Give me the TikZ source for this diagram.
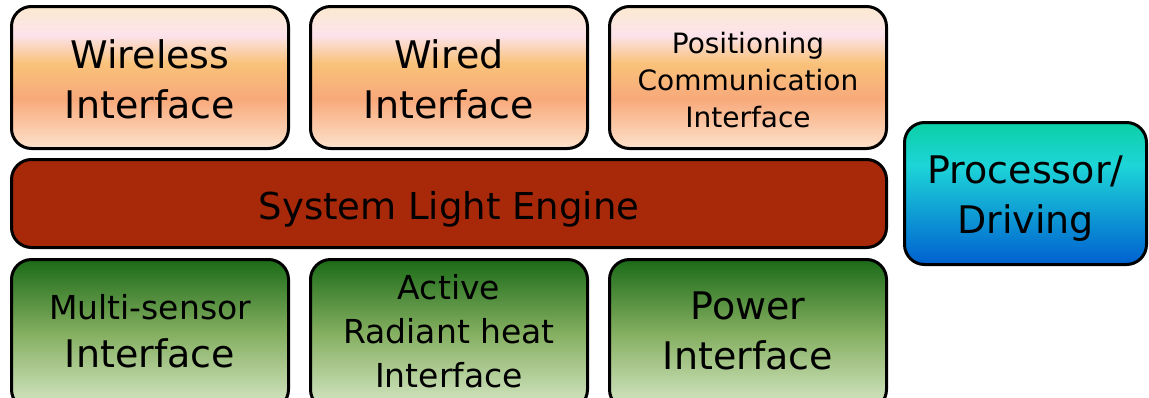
\documentclass[tikz,border=0pt]{standalone}
\usepackage{fontspec}
\setmainfont{DejaVu Sans}
\definecolor{oTop}{HTML}{FCE9CF}
\definecolor{oPink}{HTML}{FCE3EC}
\definecolor{oOr}{HTML}{F9C27A}
\definecolor{oSal}{HTML}{F8A97A}
\definecolor{oBot}{HTML}{FDE2CC}
\definecolor{gTop}{HTML}{1B6B17}
\definecolor{gMid}{HTML}{86B062}
\definecolor{gBot}{HTML}{D8E8C8}
\definecolor{bTop}{HTML}{0CCFA6}
\definecolor{bCy}{HTML}{1DD5D8}
\definecolor{bBot}{HTML}{0060D0}
\definecolor{engine}{HTML}{A8280A}
\pgfdeclareverticalshading{orangeG}{100bp}{color(0bp)=(oBot); color(25bp)=(oBot); color(42.5bp)=(oSal); color(55bp)=(oOr); color(65bp)=(oPink); color(75bp)=(oTop); color(100bp)=(oTop)}
\pgfdeclareverticalshading{greenG}{100bp}{color(0bp)=(gBot); color(25bp)=(gBot); color(50bp)=(gMid); color(75bp)=(gTop); color(100bp)=(gTop)}
\pgfdeclareverticalshading{blueG}{100bp}{color(0bp)=(bBot); color(25bp)=(bBot); color(60bp)=(bCy); color(75bp)=(bTop); color(100bp)=(bTop)}
\tikzset{
  blk/.style={draw=black, line width=3pt, rounded corners=20pt, inner sep=0pt},
  topblk/.style={blk, shading=orangeG, minimum width=277pt, minimum height=142pt},
  botblk/.style={blk, shading=greenG, minimum width=277pt, minimum height=150pt},
  txt/.style={align=center, text=black, inner sep=0pt},
  bigtxt/.style={txt, font=\fontsize{38}{50}\selectfont},
}
\begin{document}
\begin{tikzpicture}[x=1pt,y=-1pt]
\useasboundingbox (0,0) rectangle (1149,397);
\clip (0,0) rectangle (1149,397);
% boxes
\node[topblk] (wireless) at (150,77.5) {};
\node[topblk] (wired) at (449,77.5) {};
\node[topblk] (pos) at (748,77.5) {};
\node[blk, fill=engine, minimum width=875pt, minimum height=88pt] (engine) at (449,203.5) {};
\node[botblk] (multi) at (150,334.5) {};
\node[botblk] (active) at (449,334.5) {};
\node[botblk] (power) at (748,334.5) {};
\node[blk, shading=blueG, minimum width=242pt, minimum height=142pt] (proc) at (1025.5,193.5) {};
% texts
\node[bigtxt] (wirelessT) at ([yshift=-2pt]wireless.center) {Wireless\\Interface};
\node[bigtxt] (wiredT) at ([yshift=-2pt]wired.center) {Wired\\Interface};
\node[txt, font=\fontsize{28}{37}\selectfont] (posT) at ([yshift=-3pt]pos.center) {Positioning\\Communication\\Interface};
\node[txt, font=\fontsize{37}{44}\selectfont] (engineT) at ([yshift=-6pt]engine.center) {System Light Engine};
\node[txt, font=\fontsize{33}{48}\selectfont] (multiT) at ([yshift=3pt]multi.center) {Multi-sensor\\\fontsize{38}{48}\selectfont Interface};
\node[txt, font=\fontsize{33}{44}\selectfont] (activeT) at ([yshift=3.5pt]active.center) {Active\\Radiant heat\\Interface};
\node[bigtxt] (powerT) at ([yshift=4pt]power.center) {Power\\Interface};
\node[bigtxt] (procT) at ([yshift=-5pt]proc.center) {Processor/\\Driving};
\end{tikzpicture}
\end{document}
